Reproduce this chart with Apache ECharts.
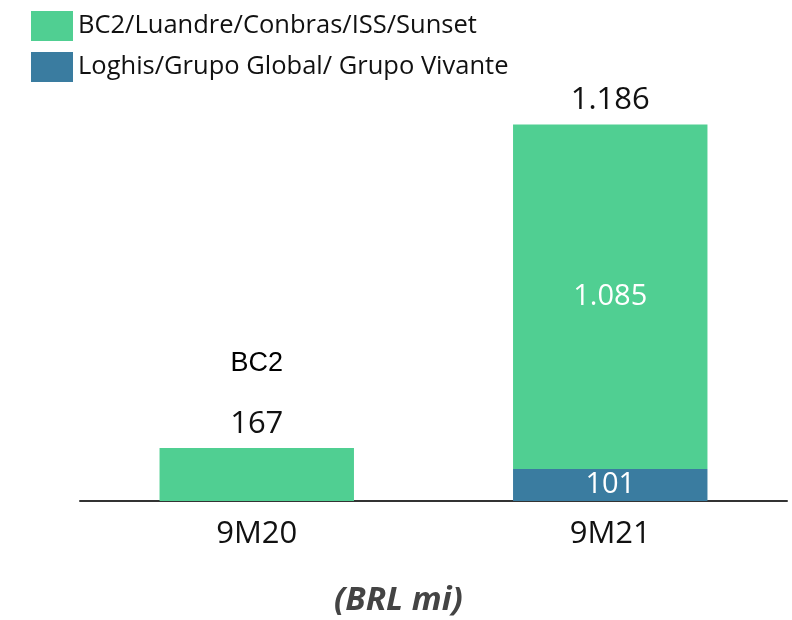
<!DOCTYPE html>
<html>
<head>
<meta charset="utf-8">
<script src="https://cdn.jsdelivr.net/npm/echarts@6/dist/echarts.min.js"></script>
<style>
  html, body { margin: 0; padding: 0; background: #fff; }
  #chart { width: 792px; height: 620px; }
</style>
</head>
<body>
<div id="chart"></div>
<script>
// dados (BRL mi)
const categories = ["9M20", "9M21"];
const seriesNames = ["BC2/Luandre/Conbras/ISS/Sunset", "Loghis/Grupo Global/ Grupo Vivante"];
const greenValues = [167, 1085];
const blueValues = ["-", 101];
const totals = [167, 1186];
const topNotes = ["BC2", ""];

const fmt = (v) => String(v).replace(/\B(?=(\d{3})+(?!\d))/g, ".");
const numFont = "'Open Sans', sans-serif";

let chartDom = document.getElementById("chart");
let myChart = echarts.init(chartDom);
let option;

option = {
  animation: false,
  legend: {
    data: seriesNames,
    orient: "vertical",
    left: 26,
    top: 6,
    itemWidth: 42,
    itemHeight: 30,
    itemGap: 11,
    icon: "rect",
    textStyle: { fontFamily: numFont, fontSize: 25.5, color: "#111" }
  },
  title: {
    text: "(BRL mi)",
    left: 329,
    top: 579,
    textStyle: {
      fontFamily: "'Noto Sans', sans-serif",
      fontStyle: "italic",
      fontWeight: "bold",
      fontSize: 33,
      color: "#444"
    }
  },
  grid: { left: 80, right: 5, top: 120, bottom: 119 },
  xAxis: {
    type: "category",
    data: categories,
    axisLine: { lineStyle: { color: "#333", width: 2 } },
    axisTick: { show: false },
    axisLabel: { fontFamily: numFont, fontSize: 31, color: "#111", margin: 18 }
  },
  yAxis: {
    type: "value",
    min: 0,
    max: 1200,
    show: false
  },
  series: [
    {
      name: seriesNames[1],
      type: "bar",
      stack: "total",
      barWidth: "55%",
      itemStyle: { color: "#3A7CA0" },
      label: {
        show: true,
        position: "inside",
        color: "#fff",
        fontFamily: numFont,
        fontSize: 29,
        formatter: (p) => fmt(p.value)
      },
      data: blueValues
    },
    {
      name: seriesNames[0],
      type: "bar",
      stack: "total",
      barWidth: "55%",
      itemStyle: { color: "#50CF92" },
      label: {
        show: true,
        position: "inside",
        color: "#fff",
        fontFamily: numFont,
        fontSize: 29,
        formatter: (p) => (p.dataIndex === 0 ? "" : fmt(p.value))
      },
      data: greenValues
    },
    {
      name: "total",
      type: "scatter",
      symbolSize: 0,
      silent: true,
      itemStyle: { opacity: 1, color: "#111" },
      label: {
        show: true,
        position: "top",
        distance: 6,
        color: "#111",
        formatter: (p) => {
          const note = topNotes[p.dataIndex];
          return note ? "{n|" + note + "}\n{g|}\n{v|" + fmt(p.value) + "}" : "{v|" + fmt(p.value) + "}";
        },
        rich: {
          n: { fontFamily: "'Liberation Sans', Arial, sans-serif", fontSize: 27, color: "#000", lineHeight: 30 },
          g: { lineHeight: 27 },
          v: { fontFamily: numFont, fontSize: 31, color: "#111", lineHeight: 36 }
        }
      },
      data: totals
    }
  ]
};

option && myChart.setOption(option);
</script>
</body>
</html>
